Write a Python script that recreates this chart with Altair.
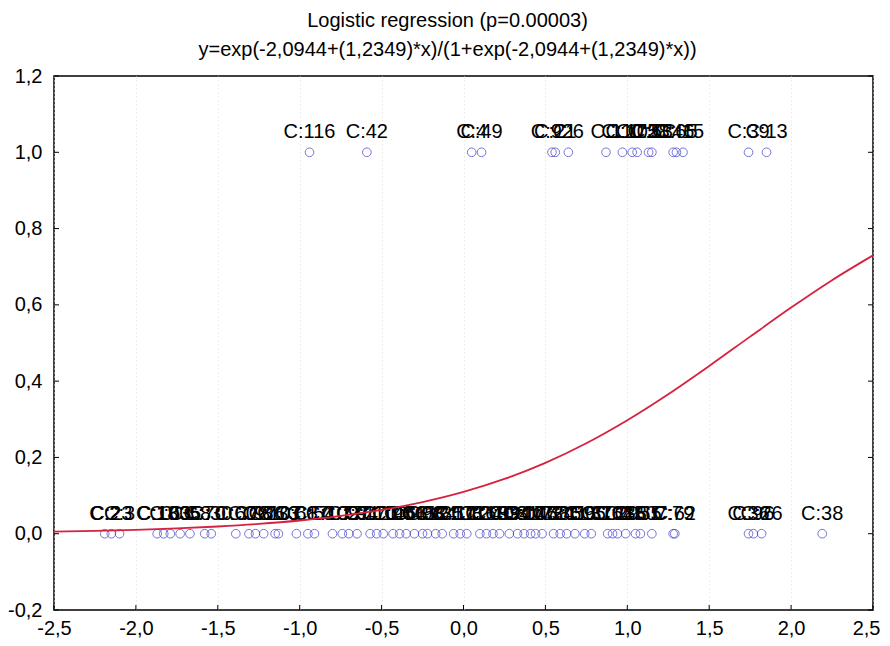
import altair as alt
import pandas as pd

# ---------------- data ----------------
title_lines = [
    "Logistic regression (p=0.00003)",
    "y=exp(-2,0944+(1,2349)*x)/(1+exp(-2,0944+(1,2349)*x))",
]

x_at_one = [-0.94, -0.59, 0.05, 0.11, 0.54, 0.56, 0.64, 0.87, 0.97, 1.03,
            1.06, 1.13, 1.15, 1.28, 1.30, 1.34, 1.74, 1.85]
labels_at_one = ["C:116", "C:42", "C:4", "C:49", "C:92", "C:21", "C:6", "C:1",
                 "C:10", "C:103", "C:75", "C:28", "C:53", "C:46", "C:65", "C:15",
                 "C:39", "C:13"]

x_at_zero = [-2.19, -2.15, -2.10, -1.87, -1.83, -1.79, -1.73, -1.67, -1.58, -1.54,
             -1.39, -1.31, -1.27, -1.22, -1.15, -1.13, -1.02, -0.95, -0.91, -0.80,
             -0.74, -0.70, -0.65, -0.57, -0.53, -0.49, -0.43, -0.39, -0.35, -0.30,
             -0.25, -0.22, -0.17, -0.13,
             -0.06, -0.02, 0.02, 0.10, 0.14, 0.18, 0.22, 0.28, 0.33, 0.37,
             0.41, 0.44, 0.48, 0.55, 0.59, 0.63, 0.68, 0.74, 0.78, 0.88,
             0.91, 0.94, 0.99, 1.05, 1.08, 1.15, 1.28, 1.29, 1.74, 1.77, 1.82, 2.19]
labels_at_zero = ["C:2", "C:23", "C:3", "C:18", "C:100", "C:63", "C:35", "C:58", "C:70", "C:30",
                  "C:60", "C:78", "C:97", "C:86", "C:107", "C:33", "C:61", "C:87", "C:54", "C:109",
                  "C:77", "C:27", "C:94", "C:110", "C:71", "C:14", "C:90", "C:5", "C:66", "C:45",
                  "C:98", "C:12", "C:84", "C:31",
                  "C:57", "C:111", "C:8", "C:20", "C:68", "C:40", "C:99", "C:34", "C:81", "C:17",
                  "C:105", "C:47", "C:73", "C:24", "C:85", "C:11", "C:56", "C:95", "C:37", "C:101",
                  "C:64", "C:29", "C:88", "C:50", "C:55", "C:7", "C:79", "C:62", "C:36", "C:96",
                  "C:26", "C:38"]

curve_x = [-2.5, -2.25, -2.0, -1.75, -1.5, -1.25, -1.0, -0.75, -0.5, -0.25, 0.0,
           0.25, 0.5, 0.75, 1.0, 1.25, 1.5, 1.75, 2.0, 2.25, 2.5]
curve_y = [0.0056, 0.0076, 0.0103, 0.0140, 0.0189, 0.0256, 0.0346, 0.0465, 0.0623,
           0.0830, 0.1096, 0.1436, 0.1859, 0.2372, 0.2975, 0.3657, 0.4398, 0.5167,
           0.5928, 0.6647, 0.7297]

x_ticks = [-2.5, -2.0, -1.5, -1.0, -0.5, 0.0, 0.5, 1.0, 1.5, 2.0, 2.5]
y_ticks = [-0.2, 0.0, 0.2, 0.4, 0.6, 0.8, 1.0, 1.2]

# ---------------- tables ----------------
points = pd.DataFrame({
    "x": x_at_one + x_at_zero,
    "y": [1.0] * len(x_at_one) + [0.0] * len(x_at_zero),
    "label": labels_at_one + labels_at_zero,
})
curve = pd.DataFrame({"x": curve_x, "y": curve_y})
xt = pd.DataFrame({"v": x_ticks})
yt = pd.DataFrame({"v": y_ticks})

W, H = 819, 534
FONT = "Liberation Sans"
label_expr = "(datum.value < 0 ? '-' : '') + replace(format(abs(datum.value), '.1f'), '.', ',')"

xscale = alt.Scale(domain=[-2.5, 2.5], nice=False, zero=False)
yscale = alt.Scale(domain=[-0.2, 1.2], nice=False, zero=False)

x_axis = alt.Axis(values=x_ticks, labelExpr=label_expr, title=None, ticks=False, domain=False,
                  labelFont=FONT, labelFontSize=20, labelColor="black", labelPadding=8,
                  labelFlush=False, labelOverlap=False,
                  labelAlign={"condition": {"test": "datum.value >= 2.5", "value": "right"},
                              "value": "center"},
                  labelOffset={"condition": {"test": "datum.value >= 2.5", "value": 7},
                               "value": 0},
                  grid=True, gridColor="#dcdcdc", gridDash=[1, 3], gridWidth=1)
y_axis = alt.Axis(values=y_ticks, labelExpr=label_expr, title=None, ticks=False, domain=False,
                  labelFont=FONT, labelFontSize=20, labelColor="black", labelPadding=12,
                  labelFlush=False, labelOverlap=False, grid=False)

base_pts = alt.Chart(points)

circles = base_pts.mark_point(shape="circle", filled=False, size=75, color="#3a3ac8",
                              strokeWidth=1).encode(
    x=alt.X("x:Q", scale=xscale, axis=x_axis),
    y=alt.Y("y:Q", scale=yscale, axis=y_axis),
)

texts = base_pts.mark_text(font=FONT, fontSize=20, color="black", dy=-20,
                           baseline="middle", align="center").encode(
    x=alt.X("x:Q", scale=xscale),
    y=alt.Y("y:Q", scale=yscale),
    text="label:N",
)

line = alt.Chart(curve).mark_line(color="#d6223f", strokeWidth=1.8,
                                  interpolate="monotone").encode(
    x=alt.X("x:Q", scale=xscale),
    y=alt.Y("y:Q", scale=yscale),
)

xticks_in = alt.Chart(xt).mark_rule(color="black", strokeWidth=1).encode(
    x=alt.X("v:Q", scale=xscale), y=alt.value(H), y2=alt.value(H - 5))
yticks_in = alt.Chart(yt).mark_rule(color="black", strokeWidth=1).encode(
    y=alt.Y("v:Q", scale=yscale), x=alt.value(0), x2=alt.value(5))
yticks_right = alt.Chart(yt).mark_rule(color="black", strokeWidth=1).encode(
    y=alt.Y("v:Q", scale=yscale), x=alt.value(W - 5), x2=alt.value(W))

chart = alt.layer(circles, texts, line, xticks_in, yticks_in, yticks_right).properties(
    width=W, height=H,
    title=alt.TitleParams(text=title_lines, font=FONT, fontSize=20, fontWeight="normal",
                          color="black", lineHeight=29, anchor="middle", frame="group",
                          dx=-16, offset=6),
    autosize=alt.AutoSizeParams(type="none"),
    padding={"left": 46, "top": 68, "right": 9, "bottom": 30},
    background="white",
).configure_view(stroke="black", strokeWidth=1.5)

chart.save("out.html", embed_options={"renderer": "svg", "actions": False})
